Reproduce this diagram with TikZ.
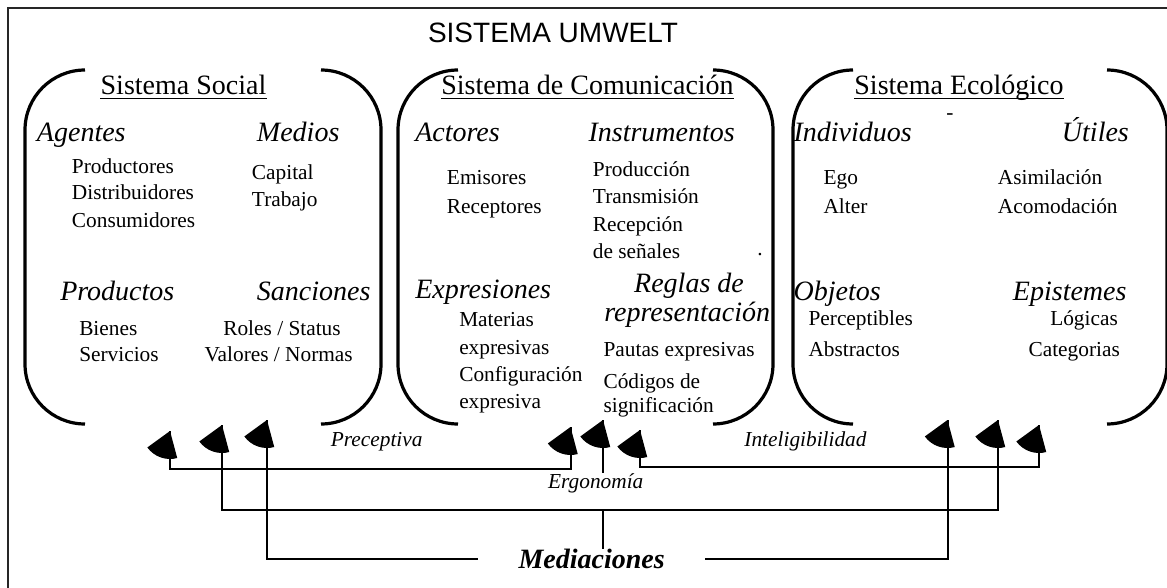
\documentclass[tikz,border=0pt]{standalone}
\usepackage{fontspec}
\setmainfont{Liberation Serif}
\newfontfamily\arialfont{Liberation Sans}
\usetikzlibrary{calc}
\tikzset{
  outerframe/.style={line width=1.5pt, black!85},
  bracket/.style={line width=2.4pt},
  conn/.style={line width=1.5pt},
  uline/.style={line width=1pt},
  title/.style={inner sep=0, anchor=base, font=\fontsize{21}{25}\selectfont},
  head/.style={inner sep=0, anchor=base west, font=\fontsize{21}{25}\selectfont\itshape},
  item/.style={inner sep=0, anchor=base west, font=\fontsize{16}{19}\selectfont},
  lab/.style={inner sep=0, anchor=base, font=\fontsize{16}{19}\selectfont\itshape},
}
\def\wedgetip(#1){\fill (#1) -- ++(144:28) arc (144:75:28) -- cycle;}
\def\bracketpair(#1,#2,#3,#4){%
  \draw[bracket] (#1+60,#3) arc (270:180:60) -- (#1,#4-60) arc (180:90:60);
  \draw[bracket] (#2-60,#3) arc (270:360:60) -- (#2,#4-60) arc (0:90:60);}

\begin{document}
\begin{tikzpicture}[x=0.75pt, y=-0.75pt]
			%%%%% START %%%%%
			\useasboundingbox (0,0) rectangle (1167,588);
			\clip (0,0) rectangle (1167,588);
			\draw[outerframe] (8,8) rectangle (1185,605);
			
			\node[title, font=\arialfont\fontsize{21}{25}\selectfont] (umwelt) at (553,43) {SISTEMA UMWELT};
			
			% three systems
			\bracketpair(25,381,70,424)
			\bracketpair(398,773,70,424)
			\bracketpair(793,1167,70,424)
			
			\node[title] (tsoc) at (183.5,95) {Sistema Social};
			\node[title] (tcom) at (587.5,95) {Sistema de Comunicación};
			\node[title] (teco) at (959,95) {Sistema Ecológico};
			\draw[uline] ([yshift=-2.5pt]tsoc.base west) -- ([yshift=-2.5pt]tsoc.base east);
			\draw[uline] ([yshift=-2.5pt]tcom.base west) -- ([yshift=-2.5pt]tcom.base east);
			\draw[uline] ([yshift=-2.5pt]teco.base west) -- ([yshift=-2.5pt]teco.base east);
			
			% social
			\node[head] (agentes) at (36.7,141.7) {Agentes};
			\node[head] (medios) at (256.7,141.7) {Medios};
			\node[item] (product) at (71.7,173.3) {Productores};
			\node[item] (distrib) at (71.7,199.3) {Distribuidores};
			\node[item] (consum) at (71.7,227.7) {Consumidores};
			\node[item] (capital) at (251.7,180) {Capital};
			\node[item] (trabajo) at (251.7,206) {Trabajo};
			\node[head] (productos) at (60,300.7) {Productos};
			\node[head] (sanciones) at (256.7,300.7) {Sanciones};
			\node[item] (bienes) at (79,335) {Bienes};
			\node[item] (servicios) at (79,361.7) {Servicios};
			\node[item, anchor=base] (roles) at (282,335) {Roles / Status};
			\node[item, anchor=base] (valores) at (278.7,361.7) {Valores / Normas};
			
			% comunicacion
			\node[head] (actores) at (415,141.7) {Actores};
			\node[head] (instrum) at (588.3,141.7) {Instrumentos};
			\node[item] (emisores) at (446.7,184.3) {Emisores};
			\node[item] (receptores) at (446.7,213.3) {Receptores};
			\node[item] (produccion) at (592.7,176) {Producción};
			\node[item] (transmision) at (592.7,204) {Transmisión};
			\node[item] (recepcion) at (592.7,231.7) {Recepción};
			\node[item] (senales) at (592.7,258.3) {de señales};
			\node[item, anchor=base] (punto) at (760,255) {.};
			\node[head] (expres) at (415,298.3) {Expresiones};
			\node[head, anchor=base] (reglas) at (689,292.7) {Reglas de};
			\node[head] (repres) at (604,321.7) {representación};
			\node[item] (materias) at (459,326.7) {Materias};
			\node[item] (expresivas) at (459,354) {expresivas};
			\node[item] (config) at (459,381.7) {Configuración};
			\node[item] (expresiva) at (459,408.3) {expresiva};
			\node[item] (pautas) at (603.3,356) {Pautas expresivas};
			\node[item] (codigos) at (603.3,388.3) {Códigos de};
			\node[item] (signif) at (603.3,412) {significación};
			
			% ecologico
			\node[item, anchor=base] (guion) at (950,120) {-};
			\node[head] (individuos) at (793.3,141.7) {Individuos};
			\node[head] (utiles) at (1061.7,141.7) {Útiles};
			\node[item] (ego) at (823.3,184.3) {Ego};
			\node[item] (alter) at (823.3,213.3) {Alter};
			\node[item] (asimil) at (997.7,184.3) {Asimilación};
			\node[item] (acomod) at (997.7,213.3) {Acomodación};
			\node[head] (objetos) at (793.3,300) {Objetos};
			\node[head] (epistemes) at (1012.7,300) {Epistemes};
			\node[item] (percept) at (808.3,325) {Perceptibles};
			\node[item] (abstr) at (808.3,356.7) {Abstractos};
			\node[item] (logicas) at (1050,325) {Lógicas};
			\node[item] (categ) at (1028.3,356.7) {Categorias};
			
			% mediaciones
			\node[lab] (tprec) at (376.7,446.7) {Preceptiva};
			\node[lab] (tintel) at (805.5,446.7) {Inteligibilidad};
			\node[lab] (tergo) at (595.8,488.3) {Ergonomía};
			\node[lab, font=\fontsize{21}{25}\selectfont\bfseries\itshape, inner xsep=30pt] (tmed) at (591.7,568.3) {Mediaciones};
			
			\coordinate (pS) at (170,431);
			\coordinate (eS) at (222,425);
			\coordinate (mS) at (267,420);
			\coordinate (pC) at (570.5,427);
			\coordinate (eC) at (603,420);
			\coordinate (iC) at (640,430);
			\coordinate (mE) at (947.5,420);
			\coordinate (eE) at (998,420);
			\coordinate (iE) at (1039,425);
			\coordinate (ejoin) at (603,510);
			
			\draw[conn] (pS) -- ++(0,38) -| (pC);
			\draw[conn] (iC) -- ++(0,37) -| (iE);
			\draw[conn] (eS) -- ++(0,85) -| (eE);
			\draw[conn] (eC) -- (eC |- tergo.north);
			\draw[conn] (ejoin) -- (ejoin |- tmed.north);
			\draw[conn] (mS) |- (tmed.west);
			\draw[conn] (tmed.east) -| (mE);
			
			\wedgetip(pS) \wedgetip(eS) \wedgetip(mS)
			\wedgetip(pC) \wedgetip(eC) \wedgetip(iC)
			\wedgetip(mE) \wedgetip(eE) \wedgetip(iE)
			%%%%% END %%%%%
\end{tikzpicture}
\end{document}
